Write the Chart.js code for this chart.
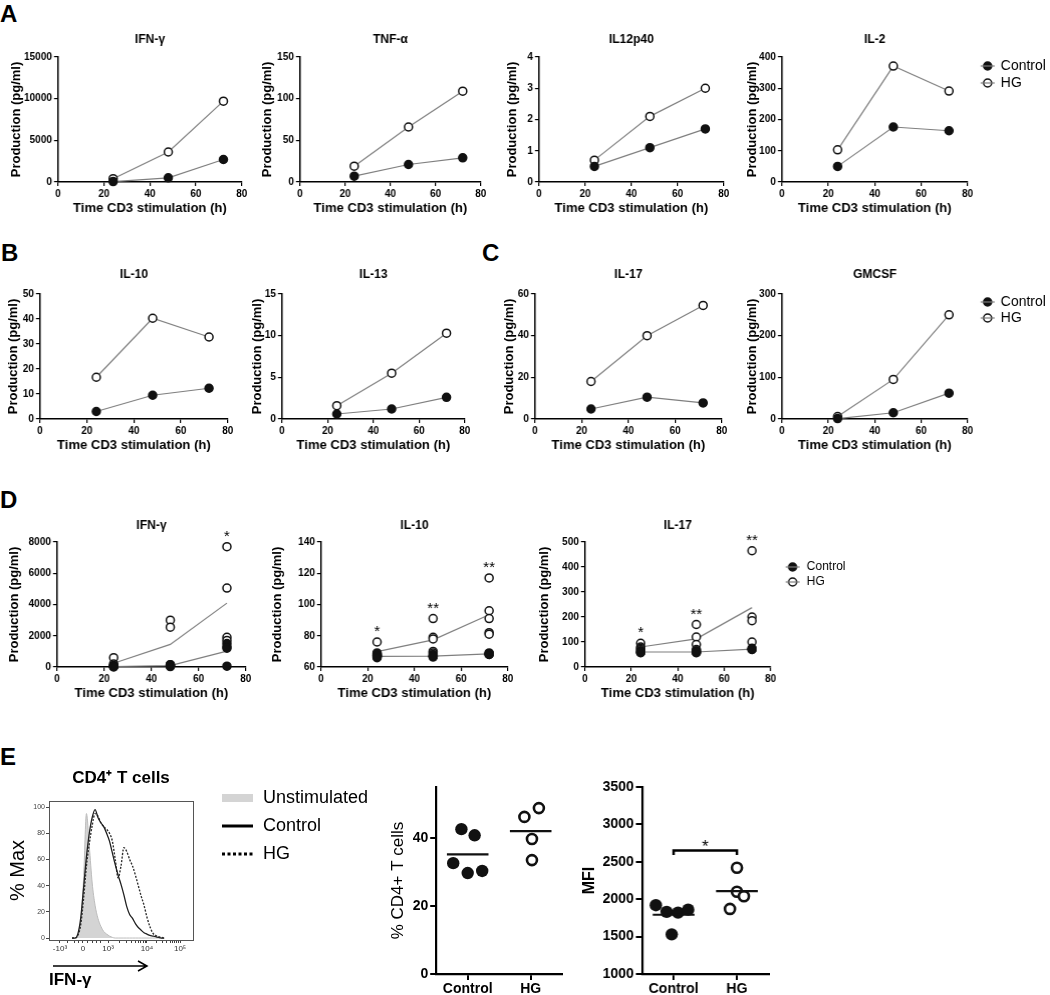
<!DOCTYPE html>
<html>
<head>
<meta charset="utf-8">
<script src="https://cdn.jsdelivr.net/npm/chart.js@4"></script>
<style>
  body { margin: 0; background: #fff; }
  #fig { position: relative; width: 1050px; height: 995px; overflow: hidden; font-family: 'Liberation Sans', Arial, sans-serif; }
  .box { position: absolute; }
  .letter { position: absolute; font-weight: bold; font-size: 24px; line-height: 1; color: #000; }
</style>
</head>
<body>
<div id="fig">
  <div class="letter" style="left:0px;top:2px">A</div>
  <div class="letter" style="left:1px;top:241px">B</div>
  <div class="letter" style="left:482px;top:241px">C</div>
  <div class="letter" style="left:0px;top:488px">D</div>
  <div class="letter" style="left:0px;top:745px">E</div>
</div>
<script>
// ---------- data ----------
const hours = [24, 48, 72];

// A
const ifnCtrl = [50, 500, 2700];
const ifnHg = [400, 3600, 9700];
const tnfCtrl = [7, 21, 29];
const tnfHg = [19, 66, 109];
const il12Ctrl = [0.5, 1.1, 1.7];
const il12Hg = [0.7, 2.1, 3.0];
const il2Ctrl = [50, 176, 164];
const il2Hg = [103, 371, 291];

// B
const il10Ctrl = [3, 9.5, 12.3];
const il10Hg = [16.7, 40.3, 32.8];
const il13Ctrl = [0.6, 1.2, 2.6];
const il13Hg = [1.6, 5.5, 10.3];

// C
const il17Ctrl = [4.8, 10.5, 7.7];
const il17Hg = [18, 40, 54.5];
const gmcsfCtrl = [1, 15, 62];
const gmcsfHg = [6, 95, 250];

// D - single donors per time point
const dIfnCtrl = [[60, 40, 20, 10], [150, 100, 60, 30], [1500, 1300, 1200, 50]];
const dIfnHg = [[600, 200, 100, 60], [3000, 2550, 150, 80], [7700, 5050, 1900, 1700]];
const dIfnStars = ['', '', '*'];
const dIl10Ctrl = [[67, 66.5, 67.5, 67, 66], [67, 66.5, 67, 68, 66.5], [68.5, 68, 69, 68.5, 68]];
const dIl10Hg = [[76, 69, 68.5, 68, 67.5], [91, 79, 78, 70, 69], [117, 96, 91, 82, 81]];
const dIl10Stars = ['*', '**', '**'];
const dIl17Ctrl = [[65, 60, 58, 57], [65, 60, 58, 57], [75, 72, 70, 70]];
const dIl17Hg = [[95, 80, 75, 70], [170, 120, 90, 70], [465, 200, 185, 100]];
const dIl17Stars = ['*', '**', '**'];

// E - flow histogram (display channel 0-1000, % of max)
const histChannel = [160, 180, 200, 220, 240, 260, 280, 300, 320, 340, 360, 380, 400, 420, 440, 460, 480,
  500, 520, 540, 560, 580, 600, 620, 640, 660, 680, 700, 720, 740, 760, 780, 800];
const histUnstim = [0, 0, 2, 12, 45, 95, 70, 42, 25, 15, 9, 5, 3, 1.5, 0.5, 0, 0,
  0, 0, 0, 0, 0, 0, 0, 0, 0, 0, 0, 0, 0, 0, 0, 0];
const histCtrl = [0, 0, 3, 15, 38, 62, 80, 92, 98, 92, 88, 85, 80, 74, 65, 56, 48,
  41, 33, 24, 18, 15, 11, 8, 6, 4, 3, 2, 1.5, 1, 0.5, 0, 0];
const histHg = [0, 0, 2, 10, 30, 55, 72, 86, 95, 93, 88, 85, 83, 80, 74, 60, 46,
  55, 69, 66, 60, 55, 48, 40, 32, 25, 16, 9, 4, 2, 1, 0.5, 0];
const histTickPos = [76, 236, 410, 680, 910];
const histTickLabels = ['-10³', '0', '10³', '10⁴', '10⁵'];

// E - dot plots
const groups = ['Control', 'HG'];
const pctCtrl = [42.6, 40.8, 32.6, 29.7, 30.3];
const pctHg = [46.2, 48.8, 39.7, 33.5];
const pctCtrlJitter = [-0.1, 0.11, -0.23, 0, 0.23];
const pctHgJitter = [-0.1, 0.13, 0.02, 0.02];
const mfiCtrl = [1920, 1830, 1820, 1860, 1530];
const mfiHg = [2420, 2100, 2040, 1870];
const mfiCtrlJitter = [-0.28, -0.11, 0.07, 0.23, -0.03];
const mfiHgJitter = [0, 0, 0.11, -0.11];

// ---------- helpers ----------
const FONT = "'Liberation Sans', Arial, sans-serif";
Chart.defaults.font.family = FONT;
Chart.defaults.color = '#000';
Chart.defaults.animation = false;

const LINE_GREY = '#7f7f7f';
const STYLE_CTRL = { pointRadius: 4, pointBorderWidth: 1.5, pointBackgroundColor: '#111', pointBorderColor: '#111' };
const STYLE_HG = { pointRadius: 4, pointBorderWidth: 1.5, pointBackgroundColor: '#fff', pointBorderColor: '#111' };
const PLAIN = { useGrouping: false };

const fig = document.getElementById('fig');
const xy = (xs, ys) => xs.map((x, i) => ({ x, y: ys[i] }));
const mean = (a) => a.reduce((s, v) => s + v, 0) / a.length;

function addBox(left, top, width, height) {
    const div = document.createElement('div');
    div.className = 'box';
    Object.assign(div.style, { left: left + 'px', top: top + 'px', width: width + 'px', height: height + 'px' });
    const canvas = document.createElement('canvas');
    div.appendChild(canvas);
    fig.appendChild(div);
    return canvas;
}

// chart title above the plot
Chart.register({
    id: 'panelTitle',
    afterDraw(chart, args, opts) {
        if (!opts.text) return;
        const { ctx, chartArea: a } = chart;
        ctx.save();
        ctx.font = `bold ${opts.size}px ${FONT}`;
        ctx.fillStyle = '#000';
        ctx.textAlign = 'center';
        ctx.textBaseline = 'middle';
        ctx.fillText(opts.text, (a.left + a.right) / 2, a.top - opts.dy);
        ctx.restore();
    },
});

// GraphPad style legend on the right side
Chart.register({
    id: 'sideLegend',
    afterDraw(chart, args, opts) {
        if (!opts.rows) return;
        const { ctx, chartArea: a } = chart;
        ctx.save();
        ctx.font = `${opts.size}px ${FONT}`;
        ctx.textBaseline = 'middle';
        opts.rows.forEach((dy, i) => {
            const ds = chart.data.datasets[i];
            const x = a.right + opts.dx;
            const y = a.top + dy;
            ctx.beginPath();
            ctx.arc(x, y, 4, 0, Math.PI * 2);
            ctx.fillStyle = ds.pointBackgroundColor;
            ctx.fill();
            ctx.lineWidth = 1.5;
            ctx.strokeStyle = ds.pointBorderColor;
            ctx.stroke();
            ctx.strokeStyle = LINE_GREY;
            ctx.lineWidth = 1.2;
            ctx.beginPath();
            ctx.moveTo(x - 7, y);
            ctx.lineTo(x + 7, y);
            ctx.stroke();
            ctx.fillStyle = '#000';
            ctx.fillText(ds.label, a.right + opts.textDx, y);
        });
        ctx.restore();
    },
});

// significance stars above the highest HG value
Chart.register({
    id: 'starMarks',
    afterDatasetsDraw(chart, args, opts) {
        if (!opts.marks) return;
        const { ctx, scales: { x, y } } = chart;
        ctx.save();
        ctx.font = `15px ${FONT}`;
        ctx.fillStyle = '#000';
        ctx.textAlign = 'center';
        ctx.textBaseline = 'middle';
        opts.marks.forEach((m, i) => {
            if (!m) return;
            ctx.fillText(m, x.getPixelForValue(hours[i]), y.getPixelForValue(Math.max(...opts.values[i])) - 10);
        });
        ctx.restore();
    },
});

function axisStyle(width) {
    return {
        border: { color: '#000', width },
        grid: { drawOnChartArea: false, color: '#000', lineWidth: width * 0.8, tickLength: 4 },
    };
}

function timeChart(o) {
    const [x0, x1, y0, y1] = o.plot;
    const left = o.yTitleX - 4 - (13 * 1.2) / 2;
    const padTop = 34;
    const padRight = o.padRight || 10;
    const xh = 38;
    const top = y0 - padTop;
    const canvas = addBox(left, top, x1 + padRight - left, y1 + xh - top);
    const yw = x0 - left;
    const tickFont = { size: 10, weight: 'bold' };
    const titleFont = { size: 13, weight: 'bold' };

    new Chart(canvas, {
        type: 'line',
        data: { datasets: o.datasets },
        options: {
            responsive: true,
            maintainAspectRatio: false,
            animation: false,
            layout: { padding: { top: padTop, right: padRight, left: 0, bottom: 0 } },
            plugins: {
                legend: { display: false },
                tooltip: { enabled: false },
                panelTitle: { text: o.title, size: 12, dy: o.titleDy },
                sideLegend: o.legend || {},
                starMarks: o.stars || {},
            },
            scales: {
                x: {
                    type: 'linear',
                    min: 0,
                    max: 80,
                    afterFit: (s) => { s.height = xh; },
                    ticks: { stepSize: 20, font: tickFont, padding: 2, color: '#000', maxRotation: 0, format: PLAIN },
                    ...axisStyle(1.5),
                    title: { display: true, text: 'Time CD3 stimulation (h)', font: titleFont, color: '#000', padding: { top: 0, bottom: 4 } },
                },
                y: {
                    min: o.yMin || 0,
                    max: o.yMax,
                    afterFit: (s) => { s.width = yw; },
                    ticks: { stepSize: o.yStep, font: tickFont, padding: 2, color: '#000', format: PLAIN },
                    ...axisStyle(1.5),
                    title: { display: true, text: 'Production (pg/ml)', font: titleFont, color: '#000', padding: { top: 4, bottom: 0 } },
                },
            },
        },
    });
}

const pair = (ctrl, hg) => [
    { label: 'Control', data: xy(hours, ctrl), borderColor: LINE_GREY, borderWidth: 1.2, clip: false, ...STYLE_CTRL },
    { label: 'HG', data: xy(hours, hg), borderColor: LINE_GREY, borderWidth: 1.2, clip: false, ...STYLE_HG },
];

const donors = (ctrl, hg) => [
    { label: 'Control', data: hours.flatMap((h, i) => ctrl[i].map((v) => ({ x: h, y: v }))), showLine: false, clip: false, ...STYLE_CTRL },
    { label: 'HG', data: hours.flatMap((h, i) => hg[i].map((v) => ({ x: h, y: v }))), showLine: false, clip: false, ...STYLE_HG },
    { label: 'Control mean', data: xy(hours, ctrl.map(mean)), borderColor: LINE_GREY, borderWidth: 1.2, pointRadius: 0, clip: false },
    { label: 'HG mean', data: xy(hours, hg.map(mean)), borderColor: LINE_GREY, borderWidth: 1.2, pointRadius: 0, clip: false },
];

// ---------- A ----------
timeChart({ plot: [58, 241, 57, 182], yTitleX: 17, title: 'IFN-γ', titleDy: 17, yMax: 15000, yStep: 5000, datasets: pair(ifnCtrl, ifnHg) });
timeChart({ plot: [300, 480, 57, 182], yTitleX: 268, title: 'TNF-α', titleDy: 17, yMax: 150, yStep: 50, datasets: pair(tnfCtrl, tnfHg) });
timeChart({ plot: [539, 723, 57, 182], yTitleX: 513, title: 'IL12p40', titleDy: 17, yMax: 4, yStep: 1, datasets: pair(il12Ctrl, il12Hg) });
timeChart({
    plot: [782, 967, 57, 182], yTitleX: 753, title: 'IL-2', titleDy: 17, yMax: 400, yStep: 100, datasets: pair(il2Ctrl, il2Hg),
    padRight: 83, legend: { rows: [9, 26], dx: 20, textDx: 33, size: 14 },
});

// ---------- B / C ----------
timeChart({ plot: [40, 227, 294, 419], yTitleX: 14, title: 'IL-10', titleDy: 19, yMax: 50, yStep: 10, datasets: pair(il10Ctrl, il10Hg) });
timeChart({ plot: [282, 464, 294, 419], yTitleX: 258, title: 'IL-13', titleDy: 19, yMax: 15, yStep: 5, datasets: pair(il13Ctrl, il13Hg) });
timeChart({ plot: [535, 721, 294, 419], yTitleX: 510, title: 'IL-17', titleDy: 19, yMax: 60, yStep: 20, datasets: pair(il17Ctrl, il17Hg) });
timeChart({
    plot: [782, 967, 294, 419], yTitleX: 753, title: 'GMCSF', titleDy: 19, yMax: 300, yStep: 100, datasets: pair(gmcsfCtrl, gmcsfHg),
    padRight: 83, legend: { rows: [8, 24], dx: 20, textDx: 33, size: 14 },
});

// ---------- D ----------
timeChart({
    plot: [57, 245, 542, 667], yTitleX: 15, title: 'IFN-γ', titleDy: 16, yMax: 8000, yStep: 2000,
    datasets: donors(dIfnCtrl, dIfnHg), stars: { marks: dIfnStars, values: dIfnHg },
});
timeChart({
    plot: [321, 507, 542, 667], yTitleX: 278, title: 'IL-10', titleDy: 16, yMin: 60, yMax: 140, yStep: 20,
    datasets: donors(dIl10Ctrl, dIl10Hg), stars: { marks: dIl10Stars, values: dIl10Hg },
});
timeChart({
    plot: [585, 770, 542, 667], yTitleX: 545, title: 'IL-17', titleDy: 16, yMax: 500, yStep: 100,
    datasets: donors(dIl17Ctrl, dIl17Hg), stars: { marks: dIl17Stars, values: dIl17Hg },
    padRight: 90, legend: { rows: [25, 40], dx: 22, textDx: 36, size: 12 },
});

// ---------- E: histogram ----------
(function histogram() {
    const [x0, x1, y0, y1] = [49, 193, 801, 940];
    const left = 18 - 4 - (20 * 1.2) / 2;
    const padTop = 40;
    const padRight = 185;
    const xh = 55;
    const top = y0 - padTop;
    const canvas = addBox(left, top, x1 + padRight - left, y1 + xh - top);
    const yw = x0 - left;

    const tickPositions = [...histTickPos];
    [[410, 680], [680, 910]].forEach(([a, b]) => {
        for (let m = 2; m < 10; m++) tickPositions.push(a + (b - a) * Math.log10(m));
    });
    [130, 180, 205, 265, 300, 330, 360].forEach((p) => tickPositions.push(p));
    tickPositions.sort((a, b) => a - b);

    const curve = (ys) => xy(histChannel, ys);
    const decor = {
        id: 'histDecor',
        afterDraw(chart) {
            const { ctx, chartArea: a } = chart;
            ctx.save();
            ctx.strokeStyle = '#555';
            ctx.lineWidth = 1;
            ctx.strokeRect(a.left + 0.5, a.top + 0.5, a.right - a.left, a.bottom - a.top);

            ctx.fillStyle = '#000';
            ctx.font = `bold 17px ${FONT}`;
            ctx.textAlign = 'center';
            ctx.textBaseline = 'middle';
            ctx.fillText('CD4⁺ T cells', (a.left + a.right) / 2, a.top - 23);

            const ay = a.bottom + 26;
            ctx.strokeStyle = '#000';
            ctx.lineWidth = 1.5;
            ctx.beginPath();
            ctx.moveTo(a.left + 4, ay);
            ctx.lineTo(a.left + 98, ay);
            ctx.moveTo(a.left + 89, ay - 5);
            ctx.lineTo(a.left + 98, ay);
            ctx.lineTo(a.left + 89, ay + 5);
            ctx.stroke();

            // legend
            const lx = a.right + 29;
            const tx = a.right + 70;
            ctx.font = `18px ${FONT}`;
            ctx.textAlign = 'left';
            ctx.fillStyle = '#d4d4d4';
            ctx.fillRect(lx, a.top - 7, 31, 8);
            ctx.fillStyle = '#000';
            ctx.fillText(chart.data.datasets[2].label, tx, a.top - 3);
            ctx.lineWidth = 3;
            ctx.beginPath();
            ctx.moveTo(lx, a.top + 25);
            ctx.lineTo(lx + 31, a.top + 25);
            ctx.stroke();
            ctx.fillText(chart.data.datasets[0].label, tx, a.top + 25);
            ctx.setLineDash([3, 2.5]);
            ctx.beginPath();
            ctx.moveTo(lx, a.top + 53);
            ctx.lineTo(lx + 31, a.top + 53);
            ctx.stroke();
            ctx.setLineDash([]);
            ctx.fillText(chart.data.datasets[1].label, tx, a.top + 53);
            ctx.restore();
        },
    };

    new Chart(canvas, {
        type: 'line',
        data: {
            datasets: [
                { label: 'Control', data: curve(histCtrl), borderColor: '#222', borderWidth: 1.3, pointRadius: 0, cubicInterpolationMode: 'monotone', fill: false },
                { label: 'HG', data: curve(histHg), borderColor: '#333', borderWidth: 1.4, borderDash: [2, 1.5], pointRadius: 0, cubicInterpolationMode: 'monotone', fill: false },
                { label: 'Unstimulated', data: curve(histUnstim), borderColor: '#bdbdbd', backgroundColor: '#d4d4d4', borderWidth: 1, pointRadius: 0, cubicInterpolationMode: 'monotone', fill: 'origin' },
            ],
        },
        options: {
            responsive: true,
            maintainAspectRatio: false,
            animation: false,
            layout: { padding: { top: padTop, right: padRight, left: 0, bottom: 0 } },
            plugins: { legend: { display: false }, tooltip: { enabled: false } },
            scales: {
                x: {
                    type: 'linear',
                    min: 0,
                    max: 1000,
                    afterFit: (s) => { s.height = xh; },
                    afterBuildTicks: (s) => { s.ticks = tickPositions.map((value) => ({ value })); },
                    ticks: {
                        autoSkip: false,
                        maxRotation: 0,
                        padding: 1,
                        font: { size: 8 },
                        color: '#333',
                        callback: (v) => {
                            const i = histTickPos.indexOf(v);
                            return i >= 0 ? histTickLabels[i] : '';
                        },
                    },
                    border: { display: false },
                    grid: { drawOnChartArea: false, color: '#444', tickLength: 3, lineWidth: 1 },
                    title: { display: true, text: 'IFN-γ', align: 'start', font: { size: 17, weight: 'bold' }, color: '#000', padding: { top: 0, bottom: 4 } },
                },
                y: {
                    min: -1.5,
                    max: 104.6,
                    afterFit: (s) => { s.width = yw; },
                    afterBuildTicks: (s) => { s.ticks = [0, 20, 40, 60, 80, 100].map((value) => ({ value })); },
                    ticks: { font: { size: 7 }, color: '#444', padding: 1 },
                    border: { display: false },
                    grid: { drawOnChartArea: false, color: '#444', tickLength: 3, lineWidth: 1 },
                    title: { display: true, text: '% Max', font: { size: 20 }, color: '#000', padding: { top: 4, bottom: 0 } },
                },
            },
        },
        plugins: [decor],
    });
})();

// ---------- E: dot plots ----------
Chart.register({
    id: 'bracket',
    afterDatasetsDraw(chart, args, opts) {
        if (!opts.text) return;
        const { ctx, scales: { x, y } } = chart;
        const xa = x.getPixelForValue(opts.from);
        const xb = x.getPixelForValue(opts.to);
        const yb = y.getPixelForValue(opts.y);
        const yl = y.getPixelForValue(opts.leg);
        ctx.save();
        ctx.strokeStyle = '#000';
        ctx.lineWidth = 2.5;
        ctx.beginPath();
        ctx.moveTo(xa, yl);
        ctx.lineTo(xa, yb);
        ctx.lineTo(xb, yb);
        ctx.lineTo(xb, yl);
        ctx.stroke();
        ctx.fillStyle = '#000';
        ctx.font = `17px ${FONT}`;
        ctx.textAlign = 'center';
        ctx.textBaseline = 'middle';
        ctx.fillText(opts.text, (xa + xb) / 2, yb - 3);
        ctx.restore();
    },
});

function dotPlot(o) {
    const [x0, x1, y0, y1] = o.plot;
    const left = o.yTitleX - 4 - (o.titleSize * 1.2) / 2;
    const padTop = 20;
    const padRight = 10;
    const xh = 26;
    const top = y0 - padTop;
    const canvas = addBox(left, top, x1 + padRight - left, y1 + xh - top);
    const yw = x0 - left;
    const pts = (vals, jit, g) => vals.map((v, i) => ({ x: g + jit[i], y: v }));
    const bar = (vals, g) => [{ x: g - 0.33, y: mean(vals) }, { x: g + 0.33, y: mean(vals) }];
    const tickFont = { size: 14, weight: 'bold' };

    new Chart(canvas, {
        type: 'line',
        data: {
            datasets: [
                { data: bar(o.ctrl, 1), borderColor: '#111', borderWidth: 2.2, pointRadius: 0, clip: false },
                { data: bar(o.hg, 2), borderColor: '#111', borderWidth: 2.2, pointRadius: 0, clip: false },
                { data: pts(o.ctrl, o.ctrlJitter, 1), showLine: false, pointRadius: 6.2, pointBorderWidth: 0, pointBackgroundColor: '#111', pointBorderColor: '#111', clip: false },
                { data: pts(o.hg, o.hgJitter, 2), showLine: false, pointRadius: 5, pointBorderWidth: 2.6, pointBackgroundColor: '#fff', pointBorderColor: '#111', clip: false },
            ],
        },
        options: {
            responsive: true,
            maintainAspectRatio: false,
            animation: false,
            layout: { padding: { top: padTop, right: padRight, left: 0, bottom: 0 } },
            plugins: { legend: { display: false }, tooltip: { enabled: false }, bracket: o.bracket || {} },
            scales: {
                x: {
                    type: 'linear',
                    min: 0.5,
                    max: 2.5,
                    afterFit: (s) => { s.height = xh; },
                    afterBuildTicks: (s) => { s.ticks = groups.map((g, i) => ({ value: i + 1 })); },
                    ticks: { callback: (v, i) => groups[i], font: tickFont, padding: 1, color: '#000', maxRotation: 0 },
                    border: { color: '#000', width: 2.2 },
                    grid: { drawOnChartArea: false, color: '#000', lineWidth: 2, tickLength: 6 },
                },
                y: {
                    min: o.yMin,
                    max: o.yMax,
                    afterFit: (s) => { s.width = yw; },
                    ticks: { stepSize: o.yStep, includeBounds: false, font: tickFont, padding: 2, color: '#000', format: PLAIN },
                    border: { color: '#000', width: 2.2 },
                    grid: { drawOnChartArea: false, color: '#000', lineWidth: 2, tickLength: 6 },
                    title: { display: true, text: o.yTitle, font: { size: o.titleSize, weight: o.titleWeight }, color: '#000', padding: { top: 4, bottom: 0 } },
                },
            },
        },
    });
}

dotPlot({
    plot: [436, 562, 787, 974], yTitleX: 398, yTitle: '% CD4+ T cells', titleSize: 17, titleWeight: 'normal',
    yMin: 0, yMax: 55, yStep: 20, ctrl: pctCtrl, hg: pctHg, ctrlJitter: pctCtrlJitter, hgJitter: pctHgJitter,
});
dotPlot({
    plot: [642, 768, 787, 974], yTitleX: 590, yTitle: 'MFI', titleSize: 16, titleWeight: 'bold',
    yMin: 1000, yMax: 3500, yStep: 500, ctrl: mfiCtrl, hg: mfiHg, ctrlJitter: mfiCtrlJitter, hgJitter: mfiHgJitter,
    bracket: { from: 1, to: 2, y: 2650, leg: 2590, text: '*' },
});
</script>
</body>
</html>
